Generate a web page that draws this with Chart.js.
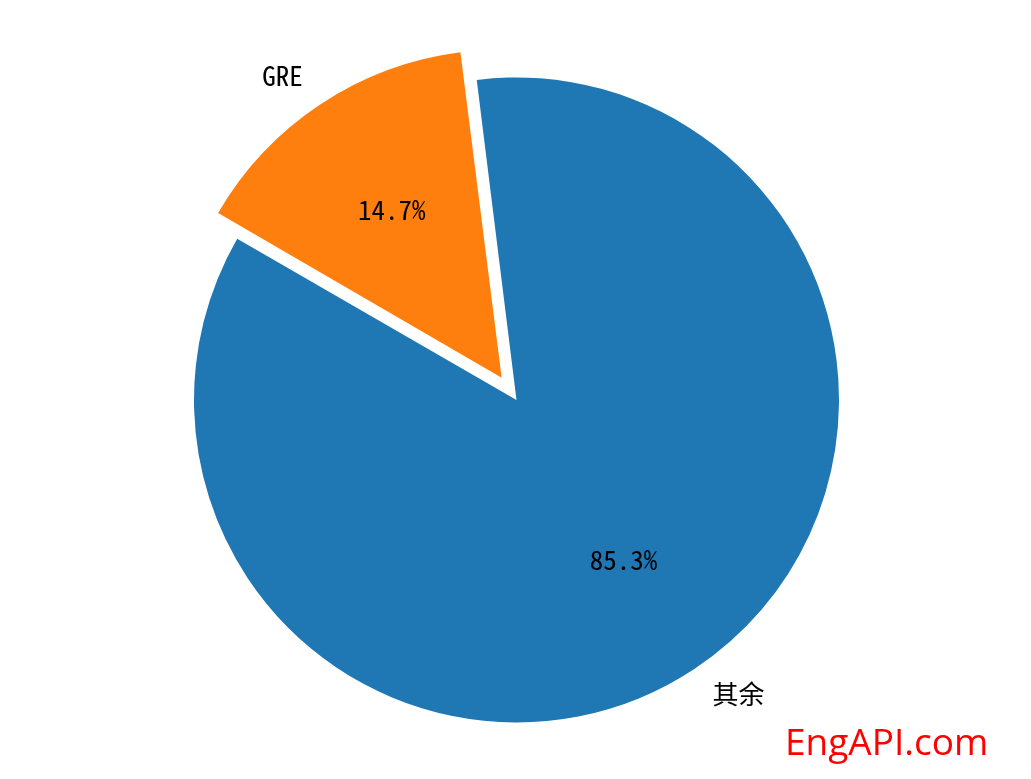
<!DOCTYPE html>
<html>
<head>
<meta charset="utf-8">
<script src="https://cdn.jsdelivr.net/npm/chart.js@4"></script>
<style>
html,body{margin:0;padding:0;background:#fff;}
#wrap{position:relative;width:1031px;height:779px;}
#wm{position:absolute;left:785px;top:716px;font-family:"Open Sans","Noto Sans",sans-serif;font-size:37px;color:#ff0000;line-height:50px;white-space:nowrap;}
</style>
</head>
<body>
<div id="wrap">
<canvas id="c" width="1031" height="779"></canvas>
<div id="wm">EngAPI.com</div>
</div>
<script>
const categories = ["GRE", "其余"];
const values = [14.7, 85.3];
const colors = ["#ff7f0e", "#1f77b4"];
const explode = [0.1, 0];   // fraction of radius, like matplotlib

const RADIUS = 322.5;
const TOTAL = values.reduce((a, b) => a + b, 0);

// Chart.js translates an arc by offset/4 * (2 - sin(min(PI, circumference)))
function chartOffsetFactor(circ) {
  return (2 - Math.sin(Math.min(Math.PI, circ))) / 4;
}

const labelPlugin = {
  id: 'pieLabels',
  afterDatasetsDraw(chart) {
    const ctx = chart.ctx;
    const meta = chart.getDatasetMeta(0);
    meta.data.forEach((arc, i) => {
      const mid = (arc.startAngle + arc.endAngle) / 2;
      const circ = arc.endAngle - arc.startAngle;
      const off = (arc.options.offset || 0) * chartOffsetFactor(circ);
      const r = arc.outerRadius;
      const cx = arc.x + Math.cos(mid) * off;
      const cy = arc.y + Math.sin(mid) * off;
      ctx.save();
      ctx.fillStyle = '#000';
      ctx.textBaseline = 'middle';
      ctx.textAlign = 'center';
      ctx.font = '27px "Noto Sans Mono CJK SC", "DejaVu Sans Mono", monospace';
      const pct = (values[i] / TOTAL * 100).toFixed(1) + '%';
      ctx.fillText(pct, cx + Math.cos(mid) * r * 0.6, cy + Math.sin(mid) * r * 0.6 - 2);
      const lx = cx + Math.cos(mid) * r * 1.1;
      const ly = cy + Math.sin(mid) * r * 1.1;
      ctx.textAlign = Math.cos(mid) >= 0 ? 'left' : 'right';
      const isCJK = /[\u4e00-\u9fff]/.test(categories[i]);
      ctx.font = isCJK ? '26px "Noto Sans CJK SC", sans-serif' : '27px "Noto Sans Mono CJK SC", "DejaVu Sans Mono", monospace';
      ctx.fillText(categories[i], lx, ly - 2);
      ctx.restore();
    });
  }
};

const offsets = explode.map((e, i) => {
  const circ = values[i] / TOTAL * 2 * Math.PI;
  return e * RADIUS / chartOffsetFactor(circ);
});

new Chart(document.getElementById('c'), {
  type: 'pie',
  data: {
    labels: categories,
    datasets: [{
      data: values,
      backgroundColor: colors,
      borderWidth: 0,
      offset: offsets,
      hoverOffset: 0,
      radius: RADIUS
    }]
  },
  options: {
    responsive: false,
    animation: false,
    rotation: -60,
    layout: { padding: { left: 2, right: 0, top: 21, bottom: 0 } },
    plugins: {
      legend: { display: false },
      tooltip: { enabled: false }
    },
    events: []
  },
  plugins: [labelPlugin]
});
</script>
</body>
</html>
